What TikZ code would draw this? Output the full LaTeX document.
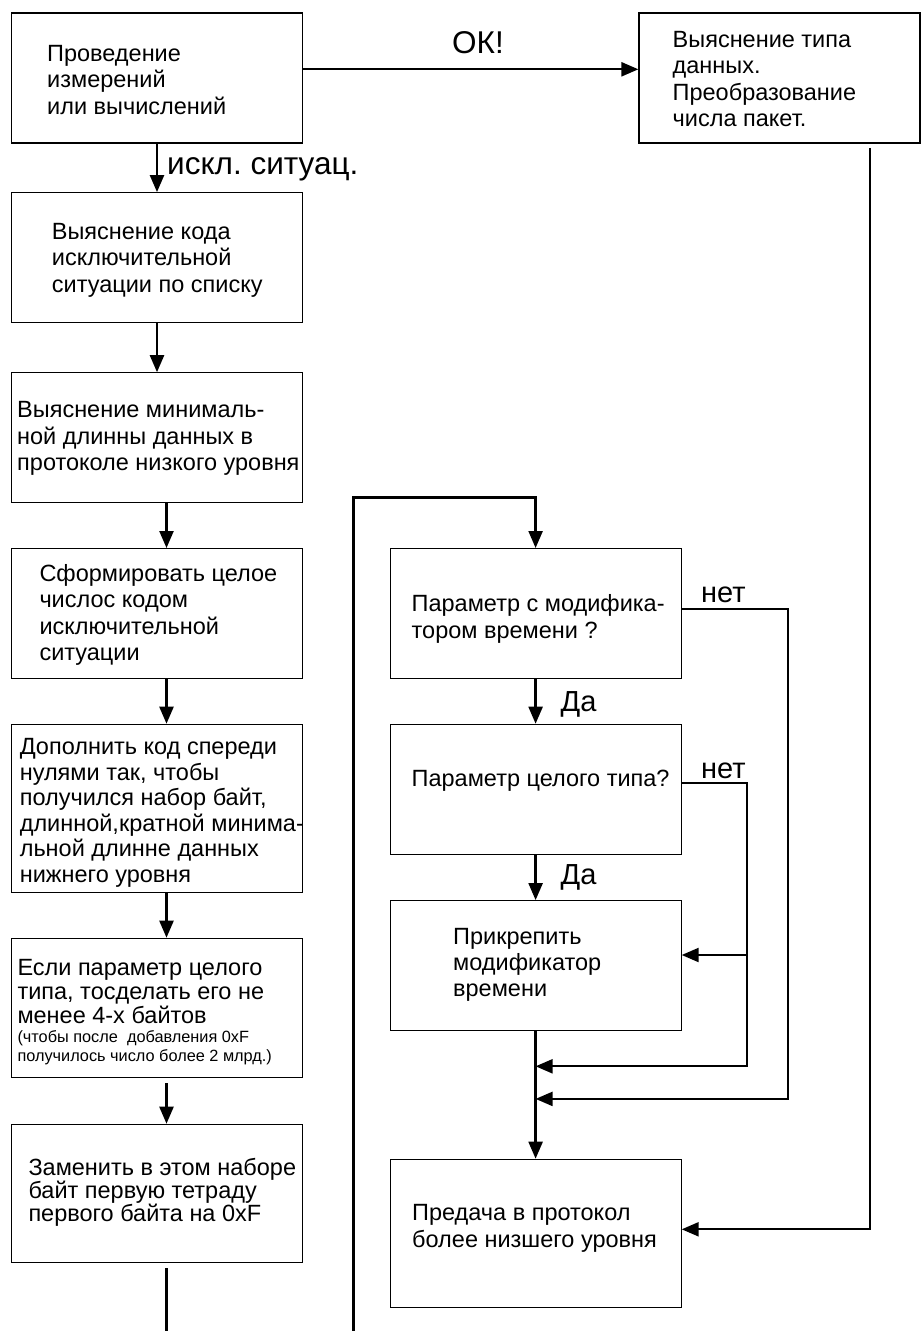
\documentclass[tikz,border=0pt]{standalone}
\usepackage{fontspec}
\setmainfont{Liberation Sans}
\usetikzlibrary{arrows.meta}
\frenchspacing

\begin{document}
\begin{tikzpicture}[x=1pt,y=-1pt]

      \useasboundingbox (0,0) rectangle (921,1331);

      \begin{scope}[every node/.style={draw,line width=1.2pt,minimum width=291pt,minimum height=130pt}]
        \node (meas) at (157,78) {};
        \node (code) at (157,257.7) {};
        \node (minlen) at (157,437.8) {};
        \node (form) at (157,613.6) {};
        \node[minimum height=168.4pt] (pad) at (157,808.5) {};
        \node[minimum height=139.4pt] (ext) at (157,1008) {};
        \node[minimum height=138.4pt] (repl) at (157,1193.5) {};
        \node[minimum width=281pt] (typ) at (779.5,78) {};
        \node (qmod) at (535.6,613.6) {};
        \node (qint) at (535.6,789.3) {};
        \node (attach) at (535.6,965.7) {};
        \node[minimum height=148pt] (send) at (535.6,1233.3) {};
      \end{scope}

      \begin{scope}[every node/.style={anchor=west,align=left,inner sep=0pt,font=\fontsize{23.5}{26.5}\selectfont}]
        \node (measT) at (47,80) {Проведение\\измерений\\или вычислений};
        \node (typT) at (672.5,79) {Выяснение типа\\данных.\\Преобразование\\числа пакет.};
        \node (codeT) at (51.7,260) {Выяснение кода\\исключительной\\ситуации по списку};
        \node (minlenT) at (17,438.4) {Выяснение минималь-\\ной длинны данных в\\протоколе низкого уровня};
        \node (formT) at (39.3,615) {Сформировать целое\\числос кодом\\исключительной\\ситуации};
        \node[font=\fontsize{23.5}{25.5}\selectfont] (padT) at (19.6,813) {Дополнить код спереди\\нулями так, чтобы\\получился набор байт,\\длинной,кратной минима-\\льной длинне данных\\нижнего уровня};
        \node[font=\fontsize{23.5}{24}\selectfont] (extT) at (17.3,1012) {Если параметр целого\\типа, тосделать его не\\менее 4-х байтов\\[-5pt]{\fontsize{16.3}{19}\selectfont (чтобы после\ \ добавления 0xF}\\[-5pt]{\fontsize{16.3}{19}\selectfont получилось число более 2 млрд.)}};
        \node[font=\fontsize{23.5}{23.3}\selectfont] (replT) at (28.3,1192.5) {Заменить в этом наборе\\байт первую тетраду\\первого байта на 0xF};
        \node (qmodT) at (411.5,618.8) {Параметр с модифика-\\тором времени ?};
        \node (qintT) at (411.5,780.8) {Параметр целого типа?};
        \node[font=\fontsize{23.5}{25.8}\selectfont] (attachT) at (453,965) {Прикрепить\\модификатор\\времени};
        \node (sendT) at (412,1228.5) {Предача в протокол\\более низшего уровня};
      \end{scope}

      \begin{scope}[every node/.style={anchor=base west,inner sep=0pt,font=\fontsize{29}{33}\selectfont}]
        \node[font=\fontsize{31.5}{35}\selectfont] (okL) at (452,53.3) {ОК!};
        \node[font=\fontsize{31.5}{35}\selectfont] (excL) at (167,174) {искл. ситуац.};
        \node (noA) at (701,602.5) {нет};
        \node (yesA) at (560.5,711) {Да};
        \node (noB) at (701,778.5) {нет};
        \node (yesB) at (560.5,884) {Да};
      \end{scope}

      \coordinate (loopIn) at (353.5,1331);
      \coordinate (replOut) at (166.5,1331);
      \coordinate (mergeA) at ([yshift=-35]attach.south);
      \coordinate (mergeB) at ([yshift=-67.6]attach.south);
      \coordinate (tapC) at ([yshift=10.7]attach.east);

      \begin{scope}[line width=2.3pt,>={Triangle[length=17pt,width=14pt]},every edge/.style={draw,->}]
        \path ([yshift=8.7]meas.east) edge ([yshift=8.7]typ.west);
        \path (meas) edge (code);
        \path (code) edge (minlen);
        \path ([xshift=9.5]minlen.south) edge ([xshift=9.5]form.north);
        \path ([xshift=9.5]form.south) edge ([xshift=9.5]pad.north);
        \path ([xshift=9.5]pad.south) edge ([xshift=9.5]ext.north);
        \path ([xshift=9.5,yshift=-5]ext.south) edge ([xshift=9.5]repl.north);
        \draw ([xshift=9.5,yshift=-5]repl.south) -- (replOut);

        \draw[->] (loopIn) |- ([yshift=50.6]qmod.north) -- (qmod.north);
        \path (qmod) edge (qint);
        \path (qint) edge (attach);
        \path (attach) edge (send);

        \draw[->] ([yshift=4.6]qmod.east) -- ++(106,0) |- (mergeB);
        \draw[->] ([yshift=6]qint.east) -- ++(65.3,0) coordinate (noInt) |- (mergeA);
        \draw[->] (noInt |- tapC) -- (tapC);
        \draw[->] ([xshift=90.5,yshift=-4.3]typ.south) |- ([yshift=4]send.east);
      \end{scope}

    \end{tikzpicture}
\end{document}
